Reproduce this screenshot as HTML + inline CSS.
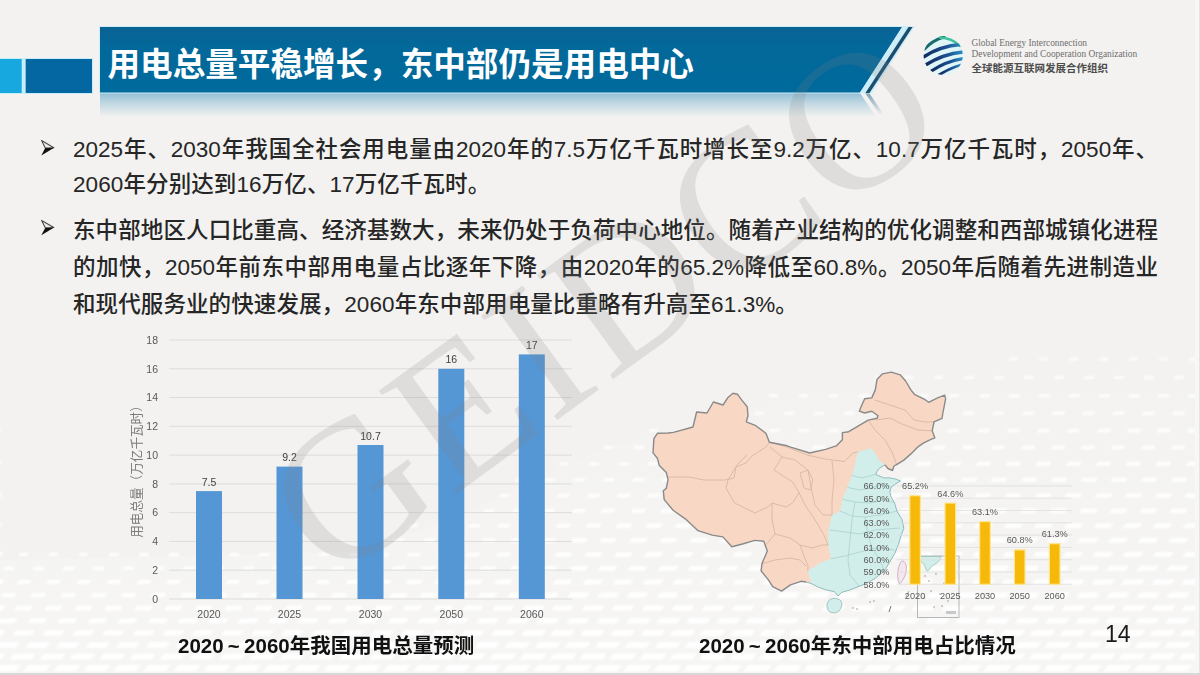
<!DOCTYPE html>
<html lang="zh-CN">
<head>
<meta charset="utf-8">
<title>用电总量平稳增长，东中部仍是用电中心</title>
<style>
*{margin:0;padding:0;box-sizing:border-box;}
html,body{width:1200px;height:675px;overflow:hidden;background:#f3f2f0;}
body{position:relative;font-family:"Liberation Sans","Noto Sans CJK SC",sans-serif;color:#262626;}
.abs{position:absolute;}
#banner{left:0;top:0;width:1200px;height:130px;}
.title{left:107.5px;top:39.5px;font-size:32.6px;font-weight:bold;color:#fff;white-space:nowrap;letter-spacing:0px;line-height:50px;}
.line{position:absolute;left:73px;width:1085px;white-space:nowrap;font-size:22.5px;letter-spacing:0.1px;font-weight:500;line-height:30px;color:#262626;}
.ctitle{font-size:20.5px;font-weight:bold;color:#111;white-space:nowrap;line-height:30px;}
.tl{display:inline-block;width:20.5px;text-align:center;}
.pnum{font-size:23px;color:#1a1a1a;line-height:30px;}
.line.j{text-align:justify;text-align-last:justify;letter-spacing:0;}
</style>
</head>
<body>
<!-- texture -->
<svg class="abs" style="left:0;top:0" width="1200" height="675" viewBox="0 0 1200 675"><defs><filter id="tb" x="-5%" y="-5%" width="110%" height="110%"><feGaussianBlur stdDeviation="0.9"/></filter><linearGradient id="bgl" x1="0" y1="0" x2="0" y2="1"><stop offset="0" stop-color="#fff" stop-opacity="0"/><stop offset="1" stop-color="#fff" stop-opacity="0.3"/></linearGradient></defs><polygon points="0,560 350,552 450,520 600,450 800,396 1000,366 1200,354 1200,675 0,675" fill="url(#bgl)"/><g fill="#ffffff" filter="url(#tb)"><path opacity="0.76" d="M-10 357.5h9l-2 3.1h-9zM1010 357.5h9l-2 3.0h-9zM1040 357.5h9l-2 3.0h-9zM1070 357.5h9l-2 3.0h-9zM1100 357.5h9l-2 3.0h-9zM1130 357.5h9l-2 3.1h-9zM1160 357.5h9l-2 3.1h-9zM1190 357.5h9l-2 3.1h-9zM1220 357.5h9l-2 3.1h-9z"/>
<path opacity="0.78" d="M-25 375.9h10l-2 3.3h-10zM876 376.0h9l-2 3.0h-9zM905 376.0h9l-2 3.0h-9zM935 376.0h9l-2 3.1h-9zM965 376.0h10l-2 3.1h-10zM995 376.0h10l-2 3.2h-10zM1025 375.9h10l-2 3.2h-10zM1055 375.9h10l-2 3.2h-10zM1085 375.9h10l-2 3.2h-10zM1115 375.9h10l-2 3.2h-10zM1145 375.9h10l-2 3.3h-10zM1175 375.9h10l-2 3.3h-10zM1205 375.9h10l-2 3.3h-10z"/>
<path opacity="0.79" d="M-11 393.9h11l-2 3.5h-11zM770 394.1h9l-2 3.0h-9zM800 394.1h9l-2 3.1h-9zM830 394.1h9l-2 3.1h-9zM860 394.1h10l-2 3.2h-10zM890 394.0h10l-2 3.2h-10zM920 394.0h10l-2 3.3h-10zM950 394.0h10l-2 3.3h-10zM980 394.0h11l-2 3.4h-11zM1010 394.0h11l-2 3.4h-11zM1040 393.9h11l-2 3.4h-11zM1070 393.9h11l-2 3.4h-11zM1100 393.9h11l-2 3.4h-11zM1130 393.9h11l-2 3.5h-11zM1159 393.9h11l-2 3.5h-11zM1189 393.9h11l-2 3.5h-11zM1219 393.9h11l-2 3.5h-11z"/>
<path opacity="0.80" d="M-26 411.5h12l-3 3.7h-12zM725 411.8h9l-2 3.0h-9zM755 411.8h10l-2 3.1h-10zM785 411.7h10l-2 3.2h-10zM815 411.7h10l-2 3.3h-10zM845 411.6h10l-2 3.3h-10zM875 411.6h11l-2 3.4h-11zM905 411.6h11l-2 3.4h-11zM934 411.6h11l-2 3.5h-11zM964 411.6h11l-2 3.5h-11zM994 411.5h11l-2 3.6h-11zM1024 411.5h12l-3 3.6h-12zM1054 411.5h12l-3 3.6h-12zM1084 411.5h12l-3 3.6h-12zM1114 411.5h12l-3 3.6h-12zM1144 411.5h12l-3 3.7h-12zM1174 411.5h12l-3 3.7h-12zM1204 411.5h12l-3 3.7h-12z"/>
<path opacity="0.82" d="M-11 428.6h13l-3 3.9h-13zM650 429.1h9l-2 3.0h-9zM680 429.0h9l-2 3.1h-9zM710 429.0h10l-2 3.2h-10zM740 428.9h10l-2 3.3h-10zM770 428.9h11l-2 3.4h-11zM799 428.8h11l-2 3.5h-11zM829 428.8h11l-2 3.5h-11zM859 428.8h11l-2 3.6h-11zM889 428.8h12l-3 3.6h-12zM919 428.7h12l-3 3.7h-12zM949 428.7h12l-3 3.7h-12zM979 428.7h12l-3 3.7h-12zM1009 428.7h12l-3 3.8h-12zM1039 428.7h12l-3 3.8h-12zM1069 428.7h12l-3 3.8h-12zM1099 428.7h13l-3 3.8h-13zM1129 428.7h13l-3 3.8h-13zM1159 428.6h13l-3 3.9h-13zM1189 428.6h13l-3 3.9h-13zM1219 428.6h13l-3 3.9h-13z"/>
<path opacity="0.83" d="M-27 445.4h13l-3 4.0h-13zM605 445.9h9l-2 3.1h-9zM635 445.8h10l-2 3.2h-10zM665 445.8h10l-2 3.3h-10zM695 445.7h11l-2 3.4h-11zM724 445.7h11l-2 3.5h-11zM754 445.6h11l-2 3.6h-11zM784 445.6h12l-3 3.7h-12zM814 445.5h12l-3 3.7h-12zM844 445.5h12l-3 3.8h-12zM874 445.5h12l-3 3.8h-12zM904 445.5h13l-3 3.8h-13zM934 445.5h13l-3 3.9h-13zM964 445.4h13l-3 3.9h-13zM993 445.4h13l-3 4.0h-13zM1023 445.4h13l-3 4.0h-13zM1053 445.4h13l-3 4.0h-13zM1083 445.4h13l-3 4.0h-13zM1113 445.4h13l-3 4.0h-13zM1143 445.4h13l-3 4.0h-13zM1173 445.4h13l-3 4.0h-13zM1203 445.4h13l-3 4.0h-13z"/>
<path opacity="0.84" d="M-12 461.7h14l-3 4.2h-14zM560 462.3h9l-2 3.0h-9zM590 462.2h10l-2 3.3h-10zM620 462.2h11l-2 3.4h-11zM649 462.1h11l-2 3.5h-11zM679 462.1h11l-2 3.6h-11zM709 462.0h12l-3 3.7h-12zM739 462.0h12l-3 3.7h-12zM769 461.9h13l-3 3.8h-13zM799 461.9h13l-3 3.9h-13zM828 461.9h13l-3 3.9h-13zM858 461.9h13l-3 4.0h-13zM888 461.8h13l-3 4.0h-13zM918 461.8h14l-3 4.1h-14zM948 461.8h14l-3 4.1h-14zM978 461.8h14l-3 4.1h-14zM1008 461.8h14l-3 4.1h-14zM1038 461.8h14l-3 4.2h-14zM1068 461.8h14l-3 4.2h-14zM1098 461.7h14l-3 4.2h-14zM1128 461.7h14l-3 4.2h-14zM1158 461.7h14l-3 4.2h-14zM1188 461.7h14l-3 4.2h-14zM1218 461.7h14l-3 4.2h-14z"/>
<path opacity="0.85" d="M-27 477.7h15l-3 4.4h-15zM516 478.4h9l-2 3.0h-9zM545 478.3h10l-2 3.2h-10zM575 478.2h11l-2 3.4h-11zM604 478.1h11l-2 3.6h-11zM634 478.1h12l-3 3.7h-12zM664 478.0h12l-3 3.8h-12zM694 478.0h13l-3 3.8h-13zM724 477.9h13l-3 3.9h-13zM753 477.9h13l-3 4.0h-13zM783 477.9h14l-3 4.1h-14zM813 477.8h14l-3 4.1h-14zM843 477.8h14l-3 4.1h-14zM873 477.8h14l-3 4.2h-14zM903 477.8h14l-3 4.2h-14zM933 477.8h14l-3 4.3h-14zM963 477.7h15l-3 4.3h-15zM993 477.7h15l-3 4.3h-15zM1023 477.7h15l-3 4.3h-15zM1053 477.7h15l-3 4.3h-15zM1083 477.7h15l-3 4.4h-15zM1113 477.7h15l-3 4.4h-15zM1143 477.7h15l-3 4.4h-15zM1173 477.7h15l-3 4.4h-15zM1203 477.7h15l-3 4.4h-15z"/>
<path opacity="0.87" d="M-13 493.3h16l-3 4.6h-16zM500 494.0h10l-2 3.1h-10zM530 493.9h11l-2 3.4h-11zM559 493.8h11l-2 3.6h-11zM589 493.7h12l-3 3.7h-12zM619 493.6h13l-3 3.8h-13zM649 493.6h13l-3 3.9h-13zM678 493.5h13l-3 4.0h-13zM708 493.5h14l-3 4.1h-14zM738 493.5h14l-3 4.2h-14zM768 493.4h14l-3 4.2h-14zM798 493.4h15l-3 4.3h-15zM828 493.4h15l-3 4.3h-15zM858 493.4h15l-3 4.4h-15zM888 493.4h15l-3 4.4h-15zM917 493.3h15l-3 4.4h-15zM947 493.3h15l-3 4.4h-15zM977 493.3h15l-3 4.5h-15zM1007 493.3h15l-3 4.5h-15zM1037 493.3h15l-3 4.5h-15zM1067 493.3h16l-3 4.5h-16zM1097 493.3h16l-3 4.5h-16zM1127 493.3h16l-3 4.5h-16zM1157 493.3h16l-3 4.6h-16zM1187 493.3h16l-3 4.6h-16zM1217 493.3h16l-3 4.6h-16z"/>
<path opacity="0.88" d="M-28 508.5h16l-3 4.7h-16zM455 509.3h9l-2 3.0h-9zM485 509.2h10l-2 3.3h-10zM514 509.1h11l-2 3.5h-11zM544 509.0h12l-3 3.7h-12zM574 508.9h13l-3 3.9h-13zM603 508.8h13l-3 4.0h-13zM633 508.8h14l-3 4.1h-14zM663 508.7h14l-3 4.2h-14zM693 508.7h14l-3 4.3h-14zM723 508.7h15l-3 4.3h-15zM753 508.6h15l-3 4.4h-15zM782 508.6h15l-3 4.5h-15zM812 508.6h15l-3 4.5h-15zM842 508.6h16l-3 4.5h-16zM872 508.6h16l-3 4.6h-16zM902 508.5h16l-3 4.6h-16zM932 508.5h16l-3 4.6h-16zM962 508.5h16l-3 4.6h-16zM992 508.5h16l-3 4.7h-16zM1022 508.5h16l-3 4.7h-16zM1052 508.5h16l-3 4.7h-16zM1082 508.5h16l-3 4.7h-16zM1112 508.5h16l-3 4.7h-16zM1142 508.5h16l-3 4.7h-16zM1172 508.5h16l-3 4.7h-16zM1202 508.5h16l-3 4.7h-16z"/>
<path opacity="0.89" d="M-14 523.3h17l-4 4.9h-17zM410 524.3h9l-2 3.0h-9zM440 524.1h10l-2 3.2h-10zM470 524.0h11l-2 3.5h-11zM499 523.9h12l-3 3.7h-12zM529 523.8h13l-3 3.9h-13zM558 523.7h14l-3 4.1h-14zM588 523.6h14l-3 4.2h-14zM618 523.6h15l-3 4.3h-15zM648 523.6h15l-3 4.4h-15zM677 523.5h15l-3 4.4h-15zM707 523.5h15l-3 4.5h-15zM737 523.5h16l-3 4.6h-16zM767 523.4h16l-3 4.6h-16zM797 523.4h16l-3 4.7h-16zM827 523.4h16l-3 4.7h-16zM857 523.4h16l-3 4.7h-16zM887 523.4h16l-3 4.7h-16zM917 523.4h17l-4 4.8h-17zM947 523.4h17l-4 4.8h-17zM977 523.3h17l-4 4.8h-17zM1007 523.3h17l-4 4.8h-17zM1037 523.3h17l-4 4.8h-17zM1067 523.3h17l-4 4.9h-17zM1097 523.3h17l-4 4.9h-17zM1126 523.3h17l-4 4.9h-17zM1156 523.3h17l-4 4.9h-17zM1186 523.3h17l-4 4.9h-17zM1216 523.3h17l-4 4.9h-17z"/>
<path opacity="0.90" d="M-29 537.8h18l-4 5.0h-18zM365 538.8h9l-2 3.0h-9zM395 538.7h10l-2 3.2h-10zM425 538.6h11l-2 3.4h-11zM454 538.5h12l-3 3.6h-12zM484 538.4h13l-3 3.9h-13zM513 538.3h14l-3 4.1h-14zM543 538.2h14l-3 4.2h-14zM573 538.1h15l-3 4.4h-15zM602 538.1h15l-3 4.5h-15zM632 538.0h16l-3 4.5h-16zM662 538.0h16l-3 4.6h-16zM692 538.0h16l-3 4.7h-16zM722 538.0h16l-3 4.7h-16zM752 537.9h17l-4 4.8h-17zM782 537.9h17l-4 4.8h-17zM812 537.9h17l-4 4.9h-17zM841 537.9h17l-4 4.9h-17zM871 537.9h17l-4 4.9h-17zM901 537.9h17l-4 4.9h-17zM931 537.8h17l-4 4.9h-17zM961 537.8h17l-4 5.0h-17zM991 537.8h18l-4 5.0h-18zM1021 537.8h18l-4 5.0h-18zM1051 537.8h18l-4 5.0h-18zM1081 537.8h18l-4 5.0h-18zM1111 537.8h18l-4 5.0h-18zM1141 537.8h18l-4 5.0h-18zM1171 537.8h18l-4 5.0h-18zM1201 537.8h18l-4 5.0h-18z"/>
<path opacity="0.91" d="M-14 551.9h18l-4 5.2h-18zM20 553.0h9l-2 3.1h-9zM50 553.0h9l-2 3.1h-9zM80 553.0h9l-2 3.1h-9zM110 553.0h10l-2 3.1h-10zM140 553.0h10l-2 3.1h-10zM170 553.0h10l-2 3.2h-10zM200 552.9h10l-2 3.2h-10zM230 552.9h10l-2 3.2h-10zM260 552.9h10l-2 3.2h-10zM290 552.9h10l-2 3.2h-10zM320 552.9h10l-2 3.2h-10zM350 552.9h10l-2 3.3h-10zM379 552.8h11l-2 3.5h-11zM409 552.7h12l-3 3.7h-12zM439 552.6h13l-3 3.8h-13zM468 552.5h13l-3 4.0h-13zM498 552.4h14l-3 4.2h-14zM528 552.3h15l-3 4.4h-15zM557 552.3h16l-3 4.5h-16zM587 552.2h16l-3 4.6h-16zM617 552.2h16l-3 4.7h-16zM647 552.1h17l-4 4.8h-17zM677 552.1h17l-4 4.8h-17zM706 552.1h17l-4 4.9h-17zM736 552.1h17l-4 4.9h-17zM766 552.0h17l-4 5.0h-17zM796 552.0h18l-4 5.0h-18zM826 552.0h18l-4 5.0h-18zM856 552.0h18l-4 5.1h-18zM886 552.0h18l-4 5.1h-18zM916 552.0h18l-4 5.1h-18zM946 552.0h18l-4 5.1h-18zM976 552.0h18l-4 5.1h-18zM1006 552.0h18l-4 5.2h-18zM1036 551.9h18l-4 5.2h-18zM1066 551.9h18l-4 5.2h-18zM1096 551.9h18l-4 5.2h-18zM1126 551.9h18l-4 5.2h-18zM1156 551.9h18l-4 5.2h-18zM1186 551.9h18l-4 5.2h-18zM1216 551.9h18l-4 5.2h-18z"/>
<path opacity="0.92" d="M-30 565.7h19l-4 5.4h-19zM4 566.7h11l-2 3.5h-11zM34 566.7h11l-2 3.5h-11zM64 566.7h11l-2 3.5h-11zM94 566.7h11l-2 3.5h-11zM124 566.6h11l-2 3.5h-11zM154 566.6h11l-2 3.5h-11zM184 566.6h11l-2 3.5h-11zM214 566.6h11l-2 3.6h-11zM244 566.6h11l-2 3.6h-11zM274 566.6h11l-2 3.6h-11zM304 566.6h12l-3 3.6h-12zM334 566.6h12l-3 3.6h-12zM364 566.5h12l-3 3.7h-12zM394 566.4h13l-3 3.9h-13zM423 566.4h14l-3 4.1h-14zM453 566.3h14l-3 4.2h-14zM482 566.2h15l-3 4.4h-15zM512 566.1h16l-3 4.6h-16zM542 566.1h16l-3 4.7h-16zM572 566.0h17l-4 4.8h-17zM601 566.0h17l-4 4.9h-17zM631 565.9h17l-4 4.9h-17zM661 565.9h18l-4 5.0h-18zM691 565.9h18l-4 5.0h-18zM721 565.9h18l-4 5.1h-18zM751 565.8h18l-4 5.1h-18zM781 565.8h18l-4 5.2h-18zM811 565.8h18l-4 5.2h-18zM841 565.8h18l-4 5.2h-18zM871 565.8h19l-4 5.2h-19zM901 565.8h19l-4 5.3h-19zM931 565.8h19l-4 5.3h-19zM961 565.8h19l-4 5.3h-19zM991 565.8h19l-4 5.3h-19zM1021 565.8h19l-4 5.3h-19zM1051 565.7h19l-4 5.3h-19zM1081 565.7h19l-4 5.3h-19zM1110 565.7h19l-4 5.3h-19zM1140 565.7h19l-4 5.3h-19zM1170 565.7h19l-4 5.3h-19zM1200 565.7h19l-4 5.4h-19z"/>
<path opacity="0.93" d="M-15 579.2h20l-4 5.5h-20zM19 580.0h13l-3 3.9h-13zM49 580.0h13l-3 3.9h-13zM79 580.0h13l-3 3.9h-13zM109 580.0h13l-3 3.9h-13zM139 580.0h13l-3 3.9h-13zM169 580.0h13l-3 3.9h-13zM199 580.0h13l-3 3.9h-13zM228 580.0h13l-3 3.9h-13zM258 580.0h13l-3 3.9h-13zM288 580.0h13l-3 4.0h-13zM318 580.0h13l-3 4.0h-13zM348 580.0h13l-3 4.0h-13zM378 579.9h14l-3 4.2h-14zM408 579.8h15l-3 4.3h-15zM437 579.7h15l-3 4.4h-15zM467 579.7h16l-3 4.6h-16zM497 579.6h16l-3 4.7h-16zM526 579.5h17l-4 4.9h-17zM556 579.5h17l-4 5.0h-17zM586 579.4h18l-4 5.1h-18zM616 579.4h18l-4 5.1h-18zM646 579.4h18l-4 5.2h-18zM676 579.3h18l-4 5.2h-18zM706 579.3h19l-4 5.2h-19zM736 579.3h19l-4 5.3h-19zM766 579.3h19l-4 5.3h-19zM795 579.3h19l-4 5.4h-19zM825 579.3h19l-4 5.4h-19zM855 579.3h19l-4 5.4h-19zM885 579.3h19l-4 5.4h-19zM915 579.2h19l-4 5.4h-19zM945 579.2h19l-4 5.4h-19zM975 579.2h20l-4 5.5h-20zM1005 579.2h20l-4 5.5h-20zM1035 579.2h20l-4 5.5h-20zM1065 579.2h20l-4 5.5h-20zM1095 579.2h20l-4 5.5h-20zM1125 579.2h20l-4 5.5h-20zM1155 579.2h20l-4 5.5h-20zM1185 579.2h20l-4 5.5h-20zM1215 579.2h20l-4 5.5h-20z"/>
<path opacity="0.94" d="M-30 592.4h20l-4 5.6h-20zM3 593.1h14l-3 4.2h-14zM33 593.1h14l-3 4.2h-14zM63 593.0h14l-3 4.3h-14zM93 593.0h14l-3 4.3h-14zM123 593.0h14l-3 4.3h-14zM153 593.0h14l-3 4.3h-14zM183 593.0h15l-3 4.3h-15zM213 593.0h15l-3 4.3h-15zM243 593.0h15l-3 4.3h-15zM273 593.0h15l-3 4.3h-15zM303 593.0h15l-3 4.3h-15zM333 593.0h15l-3 4.3h-15zM362 593.0h15l-3 4.4h-15zM392 592.9h16l-3 4.6h-16zM422 592.8h16l-3 4.7h-16zM452 592.8h17l-4 4.8h-17zM481 592.7h17l-4 4.9h-17zM511 592.7h18l-4 5.0h-18zM541 592.6h18l-4 5.1h-18zM571 592.6h19l-4 5.2h-19zM601 592.5h19l-4 5.3h-19zM630 592.5h19l-4 5.3h-19zM660 592.5h19l-4 5.4h-19zM690 592.5h19l-4 5.4h-19zM720 592.5h19l-4 5.4h-19zM750 592.4h20l-4 5.5h-20zM780 592.4h20l-4 5.5h-20zM810 592.4h20l-4 5.5h-20zM840 592.4h20l-4 5.5h-20zM870 592.4h20l-4 5.6h-20zM900 592.4h20l-4 5.6h-20zM930 592.4h20l-4 5.6h-20zM960 592.4h20l-4 5.6h-20zM990 592.4h20l-4 5.6h-20zM1020 592.4h20l-4 5.6h-20zM1050 592.4h20l-4 5.6h-20zM1080 592.4h20l-4 5.6h-20zM1110 592.4h20l-4 5.6h-20zM1140 592.4h20l-4 5.6h-20zM1170 592.4h20l-4 5.6h-20zM1200 592.4h20l-4 5.6h-20z"/>
<path opacity="0.95" d="M-15 605.2h21l-4 5.8h-21zM17 605.8h16l-3 4.6h-16zM47 605.8h16l-3 4.6h-16zM77 605.8h16l-3 4.6h-16zM107 605.8h16l-3 4.6h-16zM137 605.8h16l-3 4.6h-16zM167 605.8h16l-3 4.6h-16zM197 605.8h16l-3 4.6h-16zM227 605.8h16l-3 4.7h-16zM257 605.7h16l-3 4.7h-16zM287 605.7h16l-3 4.7h-16zM317 605.7h16l-3 4.7h-16zM347 605.7h16l-3 4.7h-16zM377 605.7h17l-4 4.8h-17zM406 605.6h17l-4 4.9h-17zM436 605.6h18l-4 5.0h-18zM466 605.5h18l-4 5.1h-18zM496 605.5h19l-4 5.2h-19zM526 605.4h19l-4 5.3h-19zM555 605.4h19l-4 5.4h-19zM585 605.3h20l-4 5.5h-20zM615 605.3h20l-4 5.5h-20zM645 605.3h20l-4 5.5h-20zM675 605.3h20l-4 5.6h-20zM705 605.3h20l-4 5.6h-20zM735 605.3h20l-4 5.6h-20zM765 605.3h20l-4 5.7h-20zM795 605.2h20l-4 5.7h-20zM825 605.2h21l-4 5.7h-21zM855 605.2h21l-4 5.7h-21zM885 605.2h21l-4 5.7h-21zM915 605.2h21l-4 5.7h-21zM945 605.2h21l-4 5.7h-21zM975 605.2h21l-4 5.7h-21zM1005 605.2h21l-4 5.8h-21zM1035 605.2h21l-4 5.8h-21zM1065 605.2h21l-4 5.8h-21zM1095 605.2h21l-4 5.8h-21zM1125 605.2h21l-4 5.8h-21zM1155 605.2h21l-4 5.8h-21zM1185 605.2h21l-4 5.8h-21zM1215 605.2h21l-4 5.8h-21z"/>
<path opacity="0.96" d="M-31 617.7h21l-4 5.9h-21zM1 618.2h17l-4 5.0h-17zM31 618.2h17l-4 5.0h-17zM61 618.2h17l-4 5.0h-17zM91 618.2h17l-4 5.0h-17zM121 618.2h17l-4 5.0h-17zM151 618.2h18l-4 5.0h-18zM181 618.2h18l-4 5.0h-18zM211 618.2h18l-4 5.0h-18zM241 618.2h18l-4 5.0h-18zM271 618.2h18l-4 5.0h-18zM301 618.2h18l-4 5.0h-18zM331 618.2h18l-4 5.0h-18zM361 618.1h18l-4 5.1h-18zM391 618.1h18l-4 5.2h-18zM421 618.0h19l-4 5.3h-19zM450 618.0h19l-4 5.3h-19zM480 618.0h19l-4 5.4h-19zM510 617.9h20l-4 5.5h-20zM540 617.9h20l-4 5.6h-20zM570 617.9h20l-4 5.6h-20zM600 617.8h20l-4 5.7h-20zM630 617.8h21l-4 5.7h-21zM660 617.8h21l-4 5.7h-21zM690 617.8h21l-4 5.8h-21zM720 617.8h21l-4 5.8h-21zM749 617.8h21l-4 5.8h-21zM779 617.8h21l-4 5.8h-21zM809 617.8h21l-4 5.8h-21zM839 617.8h21l-4 5.8h-21zM869 617.8h21l-4 5.9h-21zM899 617.7h21l-4 5.9h-21zM929 617.7h21l-4 5.9h-21zM959 617.7h21l-4 5.9h-21zM989 617.7h21l-4 5.9h-21zM1019 617.7h21l-4 5.9h-21zM1049 617.7h21l-4 5.9h-21zM1079 617.7h21l-4 5.9h-21zM1109 617.7h21l-4 5.9h-21zM1139 617.7h21l-4 5.9h-21zM1169 617.7h21l-4 5.9h-21zM1199 617.7h21l-4 5.9h-21z"/>
<path opacity="0.97" d="M-16 630.0h22l-5 6.0h-22zM16 630.3h19l-4 5.3h-19zM46 630.3h19l-4 5.3h-19zM76 630.3h19l-4 5.3h-19zM106 630.3h19l-4 5.3h-19zM136 630.3h19l-4 5.3h-19zM166 630.3h19l-4 5.3h-19zM195 630.3h19l-4 5.3h-19zM225 630.3h19l-4 5.3h-19zM255 630.3h19l-4 5.3h-19zM285 630.3h19l-4 5.4h-19zM315 630.3h19l-4 5.4h-19zM345 630.3h19l-4 5.4h-19zM375 630.3h19l-4 5.4h-19zM405 630.2h20l-4 5.5h-20zM435 630.2h20l-4 5.6h-20zM465 630.2h20l-4 5.6h-20zM495 630.1h21l-4 5.7h-21zM525 630.1h21l-4 5.8h-21zM554 630.1h21l-4 5.8h-21zM584 630.0h21l-4 5.9h-21zM614 630.0h21l-4 5.9h-21zM644 630.0h21l-4 5.9h-21zM674 630.0h22l-5 5.9h-22zM704 630.0h22l-5 5.9h-22zM734 630.0h22l-5 6.0h-22zM764 630.0h22l-5 6.0h-22zM794 630.0h22l-5 6.0h-22zM824 630.0h22l-5 6.0h-22zM854 630.0h22l-5 6.0h-22zM884 630.0h22l-5 6.0h-22zM914 630.0h22l-5 6.0h-22zM944 630.0h22l-5 6.0h-22zM974 630.0h22l-5 6.0h-22zM1004 630.0h22l-5 6.0h-22zM1034 630.0h22l-5 6.0h-22zM1064 630.0h22l-5 6.0h-22zM1094 630.0h22l-5 6.0h-22zM1124 630.0h22l-5 6.0h-22zM1154 630.0h22l-5 6.0h-22zM1184 630.0h22l-5 6.0h-22zM1214 630.0h22l-5 6.0h-22z"/>
<path opacity="0.98" d="M-31 641.9h23l-5 6.2h-23zM-0 642.2h20l-4 5.6h-20zM30 642.2h20l-4 5.7h-20zM60 642.2h20l-4 5.7h-20zM90 642.2h20l-4 5.7h-20zM120 642.1h20l-4 5.7h-20zM150 642.1h20l-4 5.7h-20zM180 642.1h20l-4 5.7h-20zM210 642.1h20l-4 5.7h-20zM240 642.1h20l-4 5.7h-20zM270 642.1h20l-4 5.7h-20zM300 642.1h20l-4 5.7h-20zM330 642.1h21l-4 5.7h-21zM360 642.1h21l-4 5.7h-21zM390 642.1h21l-4 5.8h-21zM419 642.1h21l-4 5.8h-21zM449 642.0h21l-4 5.9h-21zM479 642.0h21l-4 5.9h-21zM509 642.0h22l-5 6.0h-22zM539 642.0h22l-5 6.0h-22zM569 642.0h22l-5 6.0h-22zM599 642.0h22l-5 6.0h-22zM629 641.9h22l-5 6.1h-22zM659 641.9h22l-5 6.1h-22zM689 641.9h22l-5 6.1h-22zM719 641.9h22l-5 6.1h-22zM749 641.9h22l-5 6.1h-22zM779 641.9h22l-5 6.1h-22zM809 641.9h22l-5 6.1h-22zM839 641.9h22l-5 6.1h-22zM869 641.9h22l-5 6.1h-22zM899 641.9h22l-5 6.1h-22zM929 641.9h23l-5 6.2h-23zM959 641.9h23l-5 6.2h-23zM989 641.9h23l-5 6.2h-23zM1019 641.9h23l-5 6.2h-23zM1049 641.9h23l-5 6.2h-23zM1079 641.9h23l-5 6.2h-23zM1109 641.9h23l-5 6.2h-23zM1139 641.9h23l-5 6.2h-23zM1169 641.9h23l-5 6.2h-23zM1199 641.9h23l-5 6.2h-23z"/>
<path opacity="0.99" d="M-17 653.5h23l-5 6.3h-23zM14 653.7h22l-5 6.0h-22zM44 653.7h22l-5 6.0h-22zM74 653.7h22l-5 6.0h-22zM104 653.7h22l-5 6.0h-22zM134 653.7h22l-5 6.0h-22zM164 653.7h22l-5 6.0h-22zM194 653.7h22l-5 6.0h-22zM224 653.7h22l-5 6.0h-22zM254 653.7h22l-5 6.0h-22zM284 653.7h22l-5 6.0h-22zM314 653.7h22l-5 6.0h-22zM344 653.7h22l-5 6.0h-22zM374 653.7h22l-5 6.0h-22zM404 653.7h22l-5 6.1h-22zM434 653.6h22l-5 6.1h-22zM464 653.6h22l-5 6.1h-22zM494 653.6h23l-5 6.2h-23zM524 653.6h23l-5 6.2h-23zM554 653.6h23l-5 6.2h-23zM584 653.6h23l-5 6.2h-23zM614 653.6h23l-5 6.2h-23zM644 653.6h23l-5 6.2h-23zM674 653.6h23l-5 6.2h-23zM704 653.6h23l-5 6.3h-23zM734 653.6h23l-5 6.3h-23zM763 653.6h23l-5 6.3h-23zM793 653.6h23l-5 6.3h-23zM823 653.6h23l-5 6.3h-23zM853 653.6h23l-5 6.3h-23zM883 653.6h23l-5 6.3h-23zM913 653.6h23l-5 6.3h-23zM943 653.6h23l-5 6.3h-23zM973 653.6h23l-5 6.3h-23zM1003 653.5h23l-5 6.3h-23zM1033 653.5h23l-5 6.3h-23zM1063 653.5h23l-5 6.3h-23zM1093 653.5h23l-5 6.3h-23zM1123 653.5h23l-5 6.3h-23zM1153 653.5h23l-5 6.3h-23zM1183 653.5h23l-5 6.3h-23zM1213 653.5h23l-5 6.3h-23z"/>
<path opacity="0.99" d="M-32 664.9h24l-5 6.4h-24zM-2 665.0h23l-5 6.3h-23zM28 665.0h23l-5 6.3h-23zM58 665.0h23l-5 6.3h-23zM88 665.0h23l-5 6.3h-23zM118 665.0h23l-5 6.3h-23zM148 665.0h23l-5 6.3h-23zM178 665.0h23l-5 6.3h-23zM208 665.0h23l-5 6.3h-23zM238 665.0h23l-5 6.3h-23zM268 665.0h23l-5 6.3h-23zM298 665.0h23l-5 6.3h-23zM328 665.0h23l-5 6.3h-23zM358 665.0h23l-5 6.3h-23zM388 665.0h23l-5 6.3h-23zM418 665.0h23l-5 6.3h-23zM448 665.0h23l-5 6.4h-23zM478 665.0h23l-5 6.4h-23zM508 664.9h23l-5 6.4h-23zM538 664.9h24l-5 6.4h-24zM568 664.9h24l-5 6.4h-24zM598 664.9h24l-5 6.4h-24zM628 664.9h24l-5 6.4h-24zM658 664.9h24l-5 6.4h-24zM688 664.9h24l-5 6.4h-24zM718 664.9h24l-5 6.4h-24zM748 664.9h24l-5 6.4h-24zM778 664.9h24l-5 6.4h-24zM808 664.9h24l-5 6.4h-24zM838 664.9h24l-5 6.4h-24zM868 664.9h24l-5 6.4h-24zM898 664.9h24l-5 6.4h-24zM928 664.9h24l-5 6.4h-24zM958 664.9h24l-5 6.4h-24zM988 664.9h24l-5 6.4h-24zM1018 664.9h24l-5 6.4h-24zM1048 664.9h24l-5 6.4h-24zM1078 664.9h24l-5 6.4h-24zM1108 664.9h24l-5 6.4h-24zM1138 664.9h24l-5 6.4h-24zM1168 664.9h24l-5 6.4h-24zM1198 664.9h24l-5 6.4h-24z"/>
<path opacity="1.00" d="M-17 676.0h24l-5 6.5h-24zM13 676.0h24l-5 6.5h-24zM43 676.0h24l-5 6.5h-24zM73 676.0h24l-5 6.5h-24zM103 676.0h24l-5 6.5h-24zM133 676.0h24l-5 6.5h-24zM163 676.0h24l-5 6.5h-24zM193 676.0h24l-5 6.5h-24zM223 676.0h24l-5 6.5h-24zM253 676.0h24l-5 6.5h-24zM283 676.0h24l-5 6.5h-24zM313 676.0h24l-5 6.5h-24zM343 676.0h24l-5 6.5h-24zM373 676.0h24l-5 6.5h-24zM403 676.0h24l-5 6.5h-24zM433 676.0h24l-5 6.5h-24zM463 676.0h24l-5 6.5h-24zM493 676.0h24l-5 6.5h-24zM523 676.0h24l-5 6.5h-24zM553 676.0h24l-5 6.5h-24zM583 676.0h24l-5 6.5h-24zM613 676.0h24l-5 6.5h-24zM643 676.0h24l-5 6.5h-24zM673 676.0h24l-5 6.5h-24zM703 676.0h24l-5 6.5h-24zM733 676.0h24l-5 6.5h-24zM763 676.0h24l-5 6.5h-24zM793 676.0h24l-5 6.5h-24zM823 676.0h24l-5 6.5h-24zM853 676.0h24l-5 6.5h-24zM883 676.0h24l-5 6.5h-24zM913 676.0h24l-5 6.5h-24zM943 676.0h24l-5 6.5h-24zM973 676.0h24l-5 6.5h-24zM1003 676.0h24l-5 6.5h-24zM1033 676.0h24l-5 6.5h-24zM1063 676.0h24l-5 6.5h-24zM1093 676.0h24l-5 6.5h-24zM1123 676.0h24l-5 6.5h-24zM1153 676.0h24l-5 6.5h-24zM1183 676.0h24l-5 6.5h-24zM1213 676.0h24l-5 6.5h-24z"/></g></svg>
<!-- banner -->
<svg class="abs" id="banner" width="1200" height="130" viewBox="0 0 1200 130">
  <defs>
    <linearGradient id="refl" x1="0" y1="0" x2="0" y2="1">
      <stop offset="0" stop-color="#93bfd6"/>
      <stop offset="0.45" stop-color="#c3d9e3"/>
      <stop offset="1" stop-color="#f3f2f0"/>
    </linearGradient>
  </defs>
  <rect x="0" y="58" width="93" height="36" fill="#c4eef9"/>
  <rect x="0" y="59" width="21.7" height="34" fill="#16a8de"/>
  <rect x="25.7" y="59" width="66.3" height="34" fill="#0467a1"/>
  <polygon points="100,93 860,93 876,117 100,117" fill="url(#refl)"/>
  <polygon points="99,26 904,26 861,93.5 99,93.5" fill="#cdeef8"/>
  <linearGradient id="bn" x1="0" y1="0" x2="0" y2="1"><stop offset="0" stop-color="#0a6394"/><stop offset="0.3" stop-color="#03689a"/><stop offset="1" stop-color="#006a9c"/></linearGradient>
  <polygon points="100,27 902,27 860,92.5 100,92.5" fill="url(#bn)"/>
  <polygon points="903,26 915,26 871.5,93.5 859.5,93.5" fill="#cdeef8"/>
  <polygon points="908.5,27 912.6,27 869.5,93 865.4,93" fill="#1b4e6e"/>
  <defs>
    <linearGradient id="refl2" x1="0" y1="0" x2="0" y2="1">
      <stop offset="0" stop-color="#5f8ea8" stop-opacity="0.8"/>
      <stop offset="1" stop-color="#5f8ea8" stop-opacity="0"/>
    </linearGradient>
  </defs>
  <polygon points="865.4,93.5 869.5,93.5 884,115 880,115" fill="url(#refl2)"/>
</svg>
<div class="abs title">用电总量平稳增长，东中部仍是用电中心</div>
<!-- logo -->
<svg class="abs" style="left:918px;top:30px" width="52" height="52" viewBox="918 30 52 52">
  <defs>
    <clipPath id="gc"><circle cx="943.2" cy="55.5" r="19.6"/></clipPath>
    <linearGradient id="sg" x1="0" y1="0" x2="1" y2="0" gradientUnits="objectBoundingBox">
      <stop offset="0" stop-color="#13285a"/>
      <stop offset="0.6" stop-color="#1c4f93"/>
      <stop offset="1" stop-color="#2a8fc0"/>
    </linearGradient>
  </defs>
  <circle cx="943.2" cy="55.5" r="19.8" fill="#dff5f8"/>
  <g clip-path="url(#gc)" fill="none" stroke-linecap="round">
    <path d="M924.5,49 Q933,40 944,37" stroke="#1d6a6a" stroke-width="3"/>
    <path d="M940,37.5 Q952,38 960,46" stroke="#3fbf9a" stroke-width="2.4"/>
    <path d="M923.5,57 Q940,46 961,44.5" stroke="url(#sg)" stroke-width="3.4"/>
    <path d="M925.5,65 Q943,54 963,52" stroke="url(#sg)" stroke-width="3.4"/>
    <path d="M930.5,71.5 Q946,61 963.5,58.5" stroke="url(#sg)" stroke-width="3.2"/>
    <path d="M938,75.5 Q950,68 961,65" stroke="url(#sg)" stroke-width="2.8"/>
  </g>
</svg>
<div class="abs" style="left:971.5px;top:37.5px;font-family:'Liberation Serif',serif;font-size:9.35px;line-height:11.4px;color:#6e6e6e;white-space:nowrap;">Global Energy Interconnection<br>Development and Cooperation Organization</div>
<div class="abs" style="left:971.5px;top:61px;font-family:'Liberation Sans','Noto Sans CJK SC',sans-serif;font-size:10.5px;font-weight:bold;line-height:15px;color:#4d4d4d;white-space:nowrap;">全球能源互联网发展合作组织</div>
<!-- bullets -->
<svg class="abs" style="left:0;top:0" width="70" height="250" viewBox="0 0 70 250">
  <g id="arw">
    <polygon points="41.6,140.6 53.8,147.7 45.3,148" fill="#ececec" stroke="#4a4a4a" stroke-width="1.1" stroke-linejoin="round"/>
    <polygon points="45.2,148.1 54.1,147.7 41.3,155.4" fill="#111"/>
  </g>
  <use href="#arw" x="0" y="79.8"/>
</svg>
<div class="line j" style="top:135px">2025年、2030年我国全社会用电量由2020年的7.5万亿千瓦时增长至9.2万亿、10.7万亿千瓦时，2050年、</div>
<div class="line" style="top:170px">2060年分别达到16万亿、17万亿千瓦时。</div>
<div class="line j" style="top:215.5px">东中部地区人口比重高、经济基数大，未来仍处于负荷中心地位。随着产业结构的优化调整和西部城镇化进程</div>
<div class="line j" style="top:253px">的加快，2050年前东中部用电量占比逐年下降，由2020年的65.2%降低至60.8%。2050年后随着先进制造业</div>
<div class="line" style="top:290px">和现代服务业的快速发展，2060年东中部用电量比重略有升高至61.3%。</div>
<!-- bar chart -->
<svg class="abs" style="left:0;top:0" width="600" height="675" viewBox="0 0 600 675">
<g stroke="#dcdcdc" stroke-width="1">
<line x1="169" y1="599.0" x2="572" y2="599.0"/>
<line x1="169" y1="570.2" x2="572" y2="570.2"/>
<line x1="169" y1="541.4" x2="572" y2="541.4"/>
<line x1="169" y1="512.7" x2="572" y2="512.7"/>
<line x1="169" y1="483.9" x2="572" y2="483.9"/>
<line x1="169" y1="455.1" x2="572" y2="455.1"/>
<line x1="169" y1="426.3" x2="572" y2="426.3"/>
<line x1="169" y1="397.5" x2="572" y2="397.5"/>
<line x1="169" y1="368.8" x2="572" y2="368.8"/>
<line x1="169" y1="340.0" x2="572" y2="340.0"/>
</g>
<g font-family="Liberation Sans,Noto Sans CJK SC,sans-serif" font-size="10.5" fill="#595959" text-anchor="end">
<text x="158" y="602.7">0</text>
<text x="158" y="573.9">2</text>
<text x="158" y="545.1">4</text>
<text x="158" y="516.4">6</text>
<text x="158" y="487.6">8</text>
<text x="158" y="458.8">10</text>
<text x="158" y="430.0">12</text>
<text x="158" y="401.2">14</text>
<text x="158" y="372.5">16</text>
<text x="158" y="343.7">18</text>
</g>
<g fill="#5596d5">
<rect x="196.0" y="491.1" width="26" height="107.9"/>
<rect x="276.5" y="466.6" width="26" height="132.4"/>
<rect x="357.5" y="445.0" width="26" height="154.0"/>
<rect x="438.3" y="368.8" width="26" height="230.2"/>
<rect x="518.8" y="354.4" width="26" height="244.6"/>
</g>
<g font-family="Liberation Sans,Noto Sans CJK SC,sans-serif" font-size="10.5" fill="#404040" text-anchor="middle">
<text x="209.0" y="485.6">7.5</text>
<text x="289.5" y="461.1">9.2</text>
<text x="370.5" y="439.5">10.7</text>
<text x="451.3" y="363.3">16</text>
<text x="531.8" y="348.9">17</text>
</g>
<g font-family="Liberation Sans,Noto Sans CJK SC,sans-serif" font-size="10.5" fill="#595959" text-anchor="middle">
<text x="209.0" y="617.5">2020</text>
<text x="289.5" y="617.5">2025</text>
<text x="370.5" y="617.5">2030</text>
<text x="451.3" y="617.5">2050</text>
<text x="531.8" y="617.5">2060</text>
</g>
<text transform="translate(140.5,468.5) rotate(-90)" font-family="Liberation Sans,Noto Sans CJK SC,sans-serif" font-size="12.6" fill="#7a7a7a" text-anchor="middle">用电总量（万亿千瓦时）</text>
</svg>
<!-- map -->
<svg class="abs" style="left:0;top:0" width="1200" height="675" viewBox="0 0 1200 675">
<path d="M885.0,464.9 L888.0,468.5 L892.5,470.5 L894.0,466.0 L896.7,464.6 L903.8,460.1 L910.9,453.9 L918.0,446.8 L923.3,443.2 L930.4,439.7 L934.9,437.9 L932.2,430.8 L934.0,421.9 L942.0,418.3 L942.9,413.0 L945.6,398.8 L944.7,395.2 L937.6,397.9 L928.7,402.3 L925.1,399.7 L914.4,394.3 L910.9,389.9 L905.6,381.0 L900.2,374.8 L891.3,372.1 L882.4,373.9 L877.1,379.2 L875.3,389.9 L871.8,397.9 L864.7,398.8 L861.1,406.8 L859.3,411.2 L864.7,413.0 L871.8,411.2 L878.0,415.7 L877.1,418.3 L868.2,420.1 L859.3,425.4 L848.7,431.7 L842.4,432.6 L842.4,439.7 L836.2,445.9 L825.6,449.4 L809.6,453.0 L790.0,446.8 L787.2,445.8 L769.4,442.2 L765.9,433.3 L755.2,425.3 L746.3,421.8 L748.0,415.6 L747.2,406.7 L742.0,400.4 L737.4,394.2 L733.0,393.3 L727.7,397.8 L723.0,405.0 L713.4,402.0 L707.0,413.0 L696.6,412.0 L693.0,427.0 L673.4,432.4 L668.0,433.0 L657.4,433.3 L653.9,438.7 L653.0,452.9 L657.4,458.2 L659.2,465.3 L666.3,472.4 L668.0,479.6 L666.3,488.4 L663.3,490.7 L664.2,499.6 L673.1,510.2 L685.6,519.1 L698.0,530.7 L712.2,535.1 L722.9,536.9 L731.8,546.7 L742.4,544.0 L754.9,540.4 L763.8,541.3 L767.3,551.1 L762.0,563.6 L761.1,570.7 L768.2,579.6 L772.7,586.7 L781.6,591.1 L790.4,584.9 L801.1,581.3 L806.0,582.0 L811.3,583.6 L818.4,587.1 L825.6,589.8 L834.4,591.6 L838.0,596.0 L841.6,592.4 L850.4,589.8 L859.3,586.2 L866.4,583.6 L875.3,578.2 L884.2,571.1 L889.6,562.2 L894.9,553.3 L898.4,544.4 L901.1,535.6 L903.8,528.4 L902.0,519.6 L896.9,511.1 L894.5,502.8 L891.0,496.9 L889.8,492.1 L891.0,487.4 L895.7,483.9 L900.4,480.9 L895.7,479.1 L889.8,477.9 L883.9,477.9 L875.6,474.4 L878.5,469.0 L882.0,466.5 L885.0,464.9 Z" fill="#f8d8c5" stroke="none"/>
<path d="M857.8,451.9 L870.8,448.3 L874.4,451.9 L879.1,460.1 L885.0,464.9 L882.0,466.5 L878.5,469.0 L875.6,474.4 L883.9,477.9 L889.8,477.9 L895.7,479.1 L900.4,480.9 L895.7,483.9 L891.0,487.4 L889.8,492.1 L891.0,496.9 L894.5,502.8 L896.9,511.1 L902.0,519.6 L903.8,528.4 L901.1,535.6 L898.4,544.4 L894.9,553.3 L889.6,562.2 L884.2,571.1 L875.3,578.2 L866.4,583.6 L859.3,586.2 L850.4,589.8 L841.6,592.4 L838.0,596.0 L834.4,591.6 L825.6,589.8 L818.4,587.1 L811.3,583.6 L807.8,571.1 L820.0,563.0 L830.9,558.7 L828.2,545.0 L828.2,532.0 L832.0,515.0 L840.0,511.0 L842.4,499.3 L847.1,487.4 L851.9,475.6 L855.4,463.7 Z" fill="#d2eeea" stroke="none"/>
<g fill="none" stroke="#d9b7a5" stroke-width="0.9" stroke-linejoin="round">
<path d="M668.0,477.0 L689.0,477.0 L704.0,480.0 L725.0,480.0 L734.0,478.0 L736.0,467.0 L746.0,463.0 L752.0,456.0 L766.0,447.0 L769.4,442.2"/>
<path d="M747.0,455.0 L737.0,465.0 L728.0,480.0 L726.0,488.0 L734.5,503.0 L755.0,513.0 L767.7,507.0 L772.0,503.0 L786.0,507.0 L792.6,503.0 L799.0,492.6 L792.6,482.0 L780.0,474.0 L774.0,470.0 L782.0,457.0 L770.0,447.0"/>
<path d="M782.0,457.0 L795.0,460.0 L808.0,470.0"/>
<path d="M769.4,442.2 L787.0,447.0 L807.0,455.0 L825.0,459.0 L844.5,461.5 L852.8,453.0 L857.8,451.9"/>
<path d="M800.0,473.0 L808.0,470.0 L813.0,480.0 L810.0,490.0 L804.0,488.0 L800.0,473.0"/>
<path d="M808.0,470.0 L812.0,492.0 L815.0,505.0 L823.0,515.0 L832.0,515.0"/>
<path d="M832.0,461.0 L834.0,480.0 L832.0,500.0 L832.0,515.0"/>
<path d="M799.0,492.6 L805.0,505.0 L812.0,515.0 L818.0,525.0 L824.0,535.0 L828.2,545.0"/>
<path d="M772.0,503.0 L772.0,520.0 L775.0,534.0 L766.4,544.5"/>
<path d="M775.0,534.0 L790.0,538.0 L800.0,545.0 L812.0,548.0 L822.0,545.0 L828.2,545.0"/>
<path d="M800.0,545.0 L804.0,556.0 L808.0,566.0 L807.8,571.1"/>
<path d="M762.0,563.6 L775.0,560.0 L790.0,558.0 L800.0,560.0 L806.0,566.0"/>
<path d="M876.0,420.0 L890.0,418.0 L902.0,424.0 L918.0,430.0 L932.2,430.8"/>
<path d="M875.0,400.0 L890.0,405.0 L905.0,410.0 L914.0,420.0 L925.0,422.0 L934.0,421.9"/>
<path d="M868.2,420.1 L875.0,430.0 L885.0,440.0 L892.0,452.0 L896.7,464.6"/>
</g>
<g fill="none" stroke="#a9d0cf" stroke-width="0.8" stroke-linejoin="round">
<path d="M851.9,475.6 L862.0,478.0 L875.6,474.4"/>
<path d="M847.1,487.4 L860.0,490.0 L872.0,488.0 L885.0,483.0 L891.0,487.4"/>
<path d="M842.4,499.3 L855.0,502.0 L870.0,503.0 L885.0,500.0 L894.5,502.8"/>
<path d="M840.0,511.0 L852.0,516.0 L865.0,517.0 L880.0,515.0 L896.9,511.1"/>
<path d="M830.0,530.0 L845.0,532.0 L860.0,534.0 L875.0,530.0 L900.0,528.0"/>
<path d="M830.9,558.7 L845.0,556.0 L860.0,552.0 L875.0,548.0 L895.0,550.0"/>
<path d="M865.0,517.0 L868.0,535.0 L872.0,548.0 L880.0,560.0 L884.2,571.1"/>
<path d="M855.0,502.0 L852.0,520.0 L850.0,540.0 L848.0,560.0 L850.0,575.0 L859.3,586.2"/>
</g>
<path d="M806.0,582.0 L811.3,583.6 L818.4,587.1 L825.6,589.8 L834.4,591.6 L838.0,596.0 L841.6,592.4 L850.4,589.8 L859.3,586.2 L866.4,583.6 L875.3,578.2 L884.2,571.1 L889.6,562.2 L894.9,553.3 L898.4,544.4 L901.1,535.6 L903.8,528.4 L902.0,519.6 L896.9,511.1 L894.5,502.8 L891.0,496.9 L889.8,492.1 L891.0,487.4 L895.7,483.9 L900.4,480.9 L895.7,479.1 L889.8,477.9 L883.9,477.9 L875.6,474.4 L878.5,469.0 L882.0,466.5 L885.0,464.9" fill="none" stroke="#8dbcbc" stroke-width="1" stroke-linejoin="round"/>
<path d="M885.0,464.9 L888.0,468.5 L892.5,470.5 L894.0,466.0 L896.7,464.6 L903.8,460.1 L910.9,453.9 L918.0,446.8 L923.3,443.2 L930.4,439.7 L934.9,437.9 L932.2,430.8 L934.0,421.9 L942.0,418.3 L942.9,413.0 L945.6,398.8 L944.7,395.2 L937.6,397.9 L928.7,402.3 L925.1,399.7 L914.4,394.3 L910.9,389.9 L905.6,381.0 L900.2,374.8 L891.3,372.1 L882.4,373.9 L877.1,379.2 L875.3,389.9 L871.8,397.9 L864.7,398.8 L861.1,406.8 L859.3,411.2 L864.7,413.0 L871.8,411.2 L878.0,415.7 L877.1,418.3 L868.2,420.1 L859.3,425.4 L848.7,431.7 L842.4,432.6 L842.4,439.7 L836.2,445.9 L825.6,449.4 L809.6,453.0 L790.0,446.8 L787.2,445.8 L769.4,442.2 L765.9,433.3 L755.2,425.3 L746.3,421.8 L748.0,415.6 L747.2,406.7 L742.0,400.4 L737.4,394.2 L733.0,393.3 L727.7,397.8 L723.0,405.0 L713.4,402.0 L707.0,413.0 L696.6,412.0 L693.0,427.0 L673.4,432.4 L668.0,433.0 L657.4,433.3 L653.9,438.7 L653.0,452.9 L657.4,458.2 L659.2,465.3 L666.3,472.4 L668.0,479.6 L666.3,488.4 L663.3,490.7 L664.2,499.6 L673.1,510.2 L685.6,519.1 L698.0,530.7 L712.2,535.1 L722.9,536.9 L731.8,546.7 L742.4,544.0 L754.9,540.4 L763.8,541.3 L767.3,551.1 L762.0,563.6 L761.1,570.7 L768.2,579.6 L772.7,586.7 L781.6,591.1 L790.4,584.9 L801.1,581.3 L806.0,582.0" fill="none" stroke="#8a8a8a" stroke-width="1.4" stroke-linejoin="round"/>
</svg>
<!-- overlay chart -->
<svg class="abs" style="left:0;top:0" width="1200" height="675" viewBox="0 0 1200 675">
<path d="M828,602 C829,598 836,597.5 840,600 C843,602 842,608 839,611 C835,614 829,613 827.5,609 C826.5,606 827,604 828,602 Z" fill="#d2eeea" stroke="#8fb5b5" stroke-width="0.8"/>
<path d="M903,561 C906,562 907,567 906,572 C905,577 902,582 899.5,584 C897.5,580 897,574 898.5,568 C899.5,564 901,561 903,561 Z" fill="#f6e6ee" stroke="#c9a9bd" stroke-width="0.9"/>
<rect x="917.5" y="556" width="41.5" height="61.5" fill="none" stroke="#a8a8a8" stroke-width="0.8"/>
<path d="M919,556.5 L941,556.5 C940,561 936,564 932,566 C930,568 929,571 927,571 C925,569 926,566 923,563 C920,561 919,559 919,556.5 Z" fill="#d2eeea" stroke="#8fbcbc" stroke-width="0.7"/>

<g fill="#9a9a9a">
<circle cx="925" cy="576" r="0.8"/>
<circle cx="929" cy="581" r="0.8"/>
<circle cx="936" cy="574" r="0.8"/>
<circle cx="944" cy="583" r="0.8"/>
<circle cx="931" cy="591" r="0.8"/>
<circle cx="940" cy="594" r="0.8"/>
<circle cx="924" cy="598" r="0.8"/>
<circle cx="948" cy="601" r="0.8"/>
<circle cx="934" cy="607" r="0.8"/>
<circle cx="942" cy="606" r="0.8"/>
<circle cx="853" cy="608" r="0.8"/>
<circle cx="857" cy="609" r="0.8"/>
<circle cx="870" cy="602" r="0.8"/>
<circle cx="874" cy="601" r="0.8"/>
</g>
<rect x="946" y="611" width="10" height="3" fill="#c9c9c9"/>
<path d="M891,606 L889,612" stroke="#777" stroke-width="1"/>
<path d="M909,591 L906,597" stroke="#999" stroke-width="0.8"/>
<g stroke="#dedede" stroke-width="0.8">
<line x1="897" y1="584.3" x2="1072" y2="584.3"/>
<line x1="897" y1="572.0" x2="1072" y2="572.0"/>
<line x1="897" y1="559.7" x2="1072" y2="559.7"/>
<line x1="897" y1="547.4" x2="1072" y2="547.4"/>
<line x1="897" y1="535.1" x2="1072" y2="535.1"/>
<line x1="897" y1="522.8" x2="1072" y2="522.8"/>
<line x1="897" y1="510.5" x2="1072" y2="510.5"/>
<line x1="897" y1="498.2" x2="1072" y2="498.2"/>
<line x1="897" y1="485.9" x2="1072" y2="485.9"/>
</g>
<g font-family="Liberation Sans,sans-serif" font-size="9.2" fill="#595959" text-anchor="end">
<text x="889.5" y="587.6">58.0%</text>
<text x="889.5" y="575.3">59.0%</text>
<text x="889.5" y="563.0">60.0%</text>
<text x="889.5" y="550.7">61.0%</text>
<text x="889.5" y="538.4">62.0%</text>
<text x="889.5" y="526.1">63.0%</text>
<text x="889.5" y="513.8">64.0%</text>
<text x="889.5" y="501.5">65.0%</text>
<text x="889.5" y="489.2">66.0%</text>
</g>
<g fill="#f6b90a" stroke="#fde58e" stroke-width="1.2">
<rect x="909.8" y="495.7" width="10.6" height="88.6"/>
<rect x="945.0" y="503.1" width="10.6" height="81.2"/>
<rect x="979.7" y="521.6" width="10.6" height="62.7"/>
<rect x="1014.4" y="549.9" width="10.6" height="34.4"/>
<rect x="1049.4" y="543.7" width="10.6" height="40.6"/>
</g>
<g font-family="Liberation Sans,sans-serif" font-size="9.2" fill="#595959" text-anchor="middle">
<text x="915.1" y="489.2">65.2%</text>
<text x="950.3" y="496.6">64.6%</text>
<text x="985.0" y="515.1">63.1%</text>
<text x="1019.7" y="543.4">60.8%</text>
<text x="1054.7" y="537.2">61.3%</text>
<text x="915.1" y="598.5">2020</text>
<text x="950.3" y="598.5">2025</text>
<text x="985.0" y="598.5">2030</text>
<text x="1019.7" y="598.5">2050</text>
<text x="1054.7" y="598.5">2060</text>
</g>
</svg>
<!-- watermark -->
<svg class="abs" style="left:0;top:0" width="1200" height="675" viewBox="0 0 1200 675">
<text x="0" y="0" transform="translate(331.6,585.3) rotate(-36.21)" font-family="Liberation Serif,serif" font-size="197.0" letter-spacing="5.0" fill="#808080" fill-opacity="0.18">GEIDCO</text>
</svg>
<div class="abs ctitle" style="left:178px;top:631px">2020<span class="tl">~</span>2060年我国用电总量预测</div>
<div class="abs ctitle" style="left:699px;top:631px">2020<span class="tl">~</span>2060年东中部用电占比情况</div>
<div class="abs pnum" style="left:1105px;top:618.5px">14</div>
<div class="abs" style="left:1195px;top:0;width:5px;height:675px;background:#f7f7f6;border-right:1px solid #e4e4e4"></div>
<div class="abs" style="left:0;top:673px;width:1200px;height:2px;background:#d8d8d8"></div>
</body>
</html>
